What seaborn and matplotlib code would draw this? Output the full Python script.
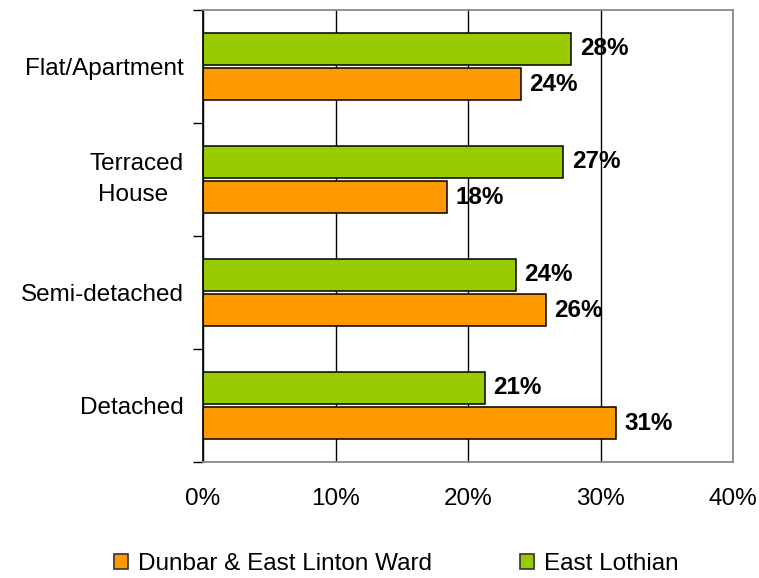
import matplotlib
matplotlib.use("Agg")
import matplotlib.pyplot as plt
import seaborn as sns
import pandas as pd
from matplotlib.patches import Patch
from matplotlib.ticker import FuncFormatter, FixedLocator

categories = ["Flat/Apartment", "Terraced\nHouse ", "Semi-detached", "Detached"]
series_names = ["Dunbar & East Linton Ward", "East Lothian"]
dunbar = [24.0, 18.4, 25.9, 31.2]
east_lothian = [27.8, 27.2, 23.6, 21.3]
x_ticks = [0, 10, 20, 30, 40]

colors = {"Dunbar & East Linton Ward": "#FF9900", "East Lothian": "#99CC00"}

df = pd.DataFrame({
    "category": categories * 2,
    "series": [series_names[0]] * 4 + [series_names[1]] * 4,
    "value": dunbar + east_lothian,
})

sns.set_theme(style="white")
plt.rcParams["font.family"] = ["Liberation Sans", "DejaVu Sans"]
plt.rcParams["text.color"] = "black"
plt.rcParams["xtick.color"] = "black"
plt.rcParams["ytick.color"] = "black"
plt.rcParams["xtick.labelcolor"] = "black"
plt.rcParams["ytick.labelcolor"] = "black"
FS = 17.5

fig = plt.figure(figsize=(7.59, 5.78), dpi=100)
ax = fig.add_axes([203 / 759, 1 - 462 / 578, 530 / 759, 452 / 578])

hue_order = ["East Lothian", "Dunbar & East Linton Ward"]
sns.barplot(data=df, y="category", x="value", hue="series", hue_order=hue_order,
            order=categories, palette=colors, width=0.62, gap=0.08, saturation=1,
            edgecolor="black", linewidth=1.1, orient="h", ax=ax, legend=False)

for cont in ax.containers:
    ax.bar_label(cont, labels=[f"{b.get_width():.0f}%" for b in cont],
                 padding=6, fontsize=FS, fontweight="bold", color="black")

ax.set_xlim(0, 40)
ax.set_ylim(len(categories) - 0.5, -0.5)
ax.xaxis.set_major_locator(FixedLocator(x_ticks))
ax.xaxis.set_major_formatter(FuncFormatter(lambda v, p: f"{v:.0f}%"))
ax.tick_params(axis="x", length=0, pad=19, labelsize=FS, colors="black")
ax.grid(axis="x", color="black", linewidth=1.0)
ax.set_axisbelow(True)

# category boundaries as major ticks, labels on minor ticks
ax.yaxis.set_major_locator(FixedLocator([i - 0.5 for i in range(len(categories) + 1)]))
ax.yaxis.set_major_formatter(FuncFormatter(lambda v, p: ""))
ax.yaxis.set_minor_locator(FixedLocator(list(range(len(categories)))))
ax.set_yticks(range(len(categories)), labels=categories, minor=True)
ax.tick_params(axis="y", which="major", length=7, width=1, direction="out", color="black", left=True)
ax.tick_params(axis="y", which="minor", length=0, pad=14, labelsize=FS, left=True, labelcolor="black")
for lab in ax.get_yticklabels(minor=True):
    lab.set_multialignment("center")
    if "\n" in lab.get_text():
        lab.set_linespacing(1.55)
        lab.set_verticalalignment("center")

ax.set_xlabel("")
ax.set_ylabel("")

for side in ["top", "right", "bottom"]:
    ax.spines[side].set_color("#888888")
    ax.spines[side].set_linewidth(1.3)
    ax.spines[side].set_visible(True)
ax.spines["left"].set_color("black")
ax.spines["left"].set_linewidth(1.2)

handles = [Patch(facecolor=colors[s], edgecolor="#333333", linewidth=1.2) for s in series_names]
fig.legend(handles, series_names, loc="center left", bbox_to_anchor=(114 / 759, 1 - 564 / 578),
           ncol=2, frameon=False, fontsize=FS, handlelength=0.58, handleheight=0.58,
           handletextpad=0.42, columnspacing=3.6, borderpad=0, borderaxespad=0)

fig.savefig("out.png", dpi=100, facecolor="white")
